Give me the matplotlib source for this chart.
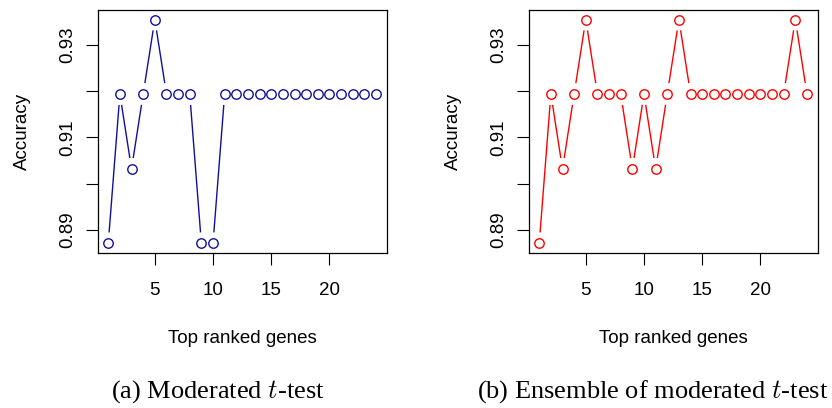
import matplotlib.pyplot as plt
import numpy as np

# accuracy vs number of top ranked genes
genes = np.arange(1, 25)
acc_moderated = [0.8871, 0.9194, 0.9032, 0.9194, 0.9355, 0.9194, 0.9194, 0.9194,
                 0.8871, 0.8871, 0.9194, 0.9194, 0.9194, 0.9194, 0.9194, 0.9194,
                 0.9194, 0.9194, 0.9194, 0.9194, 0.9194, 0.9194, 0.9194, 0.9194]
acc_ensemble = [0.8871, 0.9194, 0.9032, 0.9194, 0.9355, 0.9194, 0.9194, 0.9194,
                0.9032, 0.9194, 0.9032, 0.9194, 0.9355, 0.9194, 0.9194, 0.9194,
                0.9194, 0.9194, 0.9194, 0.9194, 0.9194, 0.9194, 0.9355, 0.9194]
y_ticks = [0.89, 0.90, 0.91, 0.92, 0.93]
y_labels = ["0.89", "", "0.91", "", "0.93"]
x_ticks = [5, 10, 15, 20]
captions = ["(a) Moderated $t$-test", "(b) Ensemble of moderated $t$-test"]

SANS = "Liberation Sans"
SERIF = "Liberation Serif"
plt.rcParams["mathtext.fontset"] = "cm"


def draw_panel(ax, x, y, color, gap_px=11):
    """R-style type='b' plot: open circles joined by lines with gaps."""
    ax.set_xlim(0.12, 24.95)
    ax.set_ylim(0.88503, 0.93757)

    # line segments, shortened at both ends in pixel space
    tr = ax.transData
    pts = tr.transform(np.column_stack([x, y]))
    for p1, p2 in zip(pts[:-1], pts[1:]):
        d = np.hypot(*(p2 - p1))
        if d <= 2 * gap_px:
            continue
        u = (p2 - p1) / d
        seg = tr.inverted().transform(np.vstack([p1 + u * gap_px, p2 - u * gap_px]))
        ax.plot(seg[:, 0], seg[:, 1], color=color, lw=1.0, solid_capstyle="butt")

    ax.plot(x, y, ls="none", marker="o", ms=6.8, mfc="none", mec=color, mew=1.0)

    ax.set_xticks(x_ticks)
    ax.set_yticks(y_ticks)
    ax.set_yticklabels(y_labels, rotation=90, va="center")
    ax.tick_params(length=8.5, width=0.8, labelsize=13.5)
    ax.tick_params(axis="x", pad=12.5)
    ax.tick_params(axis="y", pad=7.5)
    for lab in ax.get_xticklabels() + ax.get_yticklabels():
        lab.set_family(SANS)
    for s in ax.spines.values():
        s.set_linewidth(0.9)
    ax.set_xlabel("Top ranked genes", family=SANS, fontsize=13.5, labelpad=22)
    ax.set_ylabel("Accuracy", family=SANS, fontsize=13.5, labelpad=20)


fig = plt.figure(figsize=(8.32, 4.08), dpi=100)
ax1 = fig.add_axes([0.1178, 0.380, 0.3474, 0.5956])
ax2 = fig.add_axes([0.6358, 0.380, 0.3474, 0.5956])

draw_panel(ax1, genes, acc_moderated, "#10109a")
draw_panel(ax2, genes, acc_ensemble, "#ff0000")

fig.text(218 / 832, 1 - 392 / 408, captions[0], family=SERIF, fontsize=19,
         ha="center", va="center")
fig.text(653 / 832, 1 - 392 / 408, captions[1], family=SERIF, fontsize=19,
         ha="center", va="center")

fig.savefig("out.png", dpi=100)
